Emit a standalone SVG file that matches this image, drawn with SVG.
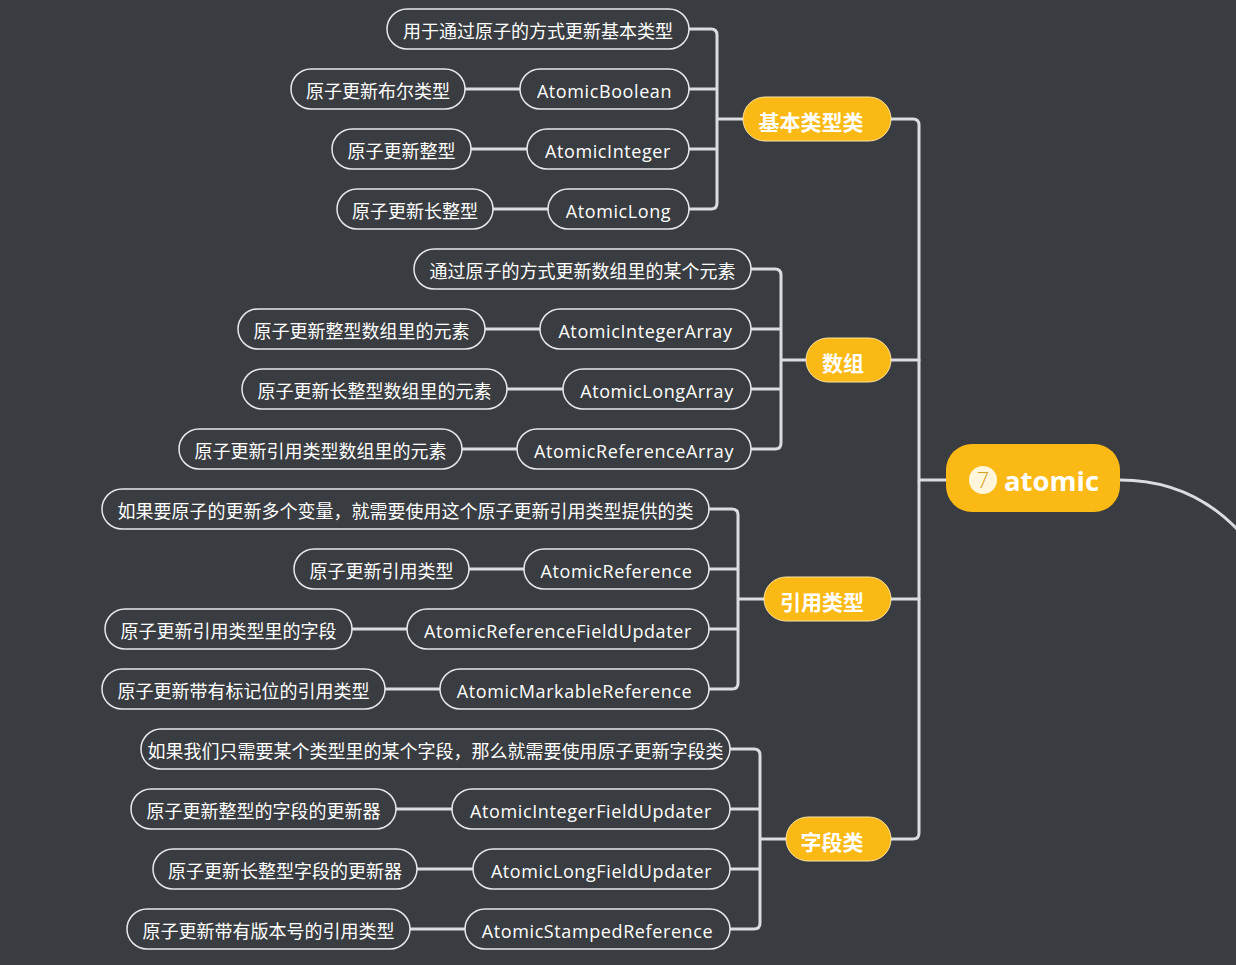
<svg xmlns="http://www.w3.org/2000/svg" width="1236" height="965" viewBox="0 0 1236 965">
<style>
.leaf rect{fill:#393c40;stroke:#e6e8ea;stroke-width:1.5}
.leaf text{fill:#ffffff;font-size:18px;text-anchor:middle;font-family:"Open Sans","Noto Sans CJK SC",sans-serif}
.leaf text.en{letter-spacing:0.6px}
.cat rect{fill:#fbb915;stroke:#fde3a0;stroke-width:1}
.cat text{fill:#ffffff;font-size:21px;font-weight:bold;text-anchor:middle;font-family:"Noto Sans CJK SC",sans-serif}
.conn path{fill:none;stroke:#d9dde2;stroke-width:3;stroke-linecap:round}
</style>
<rect width="1236" height="965" fill="#393c40"/>
<g class="conn">
<path d="M1120,480 C1170,480 1210,500 1240,532"/>
<path d="M891,119 H913 Q919,119 919,125 V833 Q919,839 913,839 H891"/>
<path d="M891,360 H919 M891,599 H919 M946,480 H919"/>
<path d="M689,29 H711 Q717,29 717,35 V203 Q717,209 711,209 H689 M689,89 H717 M689,149 H717 M717,119 H743"/>
<path d="M465,89 H520 M471,149 H527 M493,209 H548"/>
<path d="M751,269 H775 Q781,269 781,275 V443 Q781,449 775,449 H751 M751,329 H781 M751,389 H781 M781,360 H806"/>
<path d="M485,329 H540 M507,389 H563 M462,449 H517"/>
<path d="M709,509 H732 Q738,509 738,515 V683 Q738,689 732,689 H709 M709,569 H738 M709,629 H738 M738,599 H764"/>
<path d="M469,569 H524 M352,629 H407 M385,689 H440"/>
<path d="M730,749 H754 Q760,749 760,755 V923 Q760,929 754,929 H730 M730,809 H760 M730,869 H760 M760,839 H786"/>
<path d="M396,809 H452 M417,869 H473 M410,929 H465"/>
</g>
<g id="root">
<rect x="946" y="444" width="174" height="68" rx="26" fill="#fbb915"/>
<circle cx="983" cy="480" r="14" fill="#fff6dc"/>
<text x="983" y="488" font-size="22" font-weight="300" fill="#d9a01a" text-anchor="middle" font-family="'Open Sans',sans-serif">7</text>
<text x="1051.5" y="491" font-size="27.5" font-weight="bold" fill="#ffffff" text-anchor="middle" font-family="'Open Sans',sans-serif">atomic</text>
</g>
<g id="cat-basic" class="cat"><rect x="743" y="97" width="148" height="44" rx="22"/><text x="811" y="130">基本类型类</text></g>
<g id="cat-array" class="cat"><rect x="806" y="338" width="85" height="44" rx="22"/><text x="843" y="371">数组</text></g>
<g id="cat-ref" class="cat"><rect x="764" y="577" width="127" height="44" rx="22"/><text x="822" y="610">引用类型</text></g>
<g id="cat-field" class="cat"><rect x="786" y="817" width="105" height="44" rx="22"/><text x="832" y="850">字段类</text></g>

<g id="b1" class="leaf"><rect x="387" y="9" width="302" height="40" rx="20"/><text x="538" y="38">用于通过原子的方式更新基本类型</text></g>
<g id="b2" class="leaf"><rect x="520" y="69" width="169" height="40" rx="20"/><text class="en" x="604.5" y="97.5">AtomicBoolean</text></g>
<g id="b2d" class="leaf"><rect x="291" y="69" width="174" height="40" rx="20"/><text x="378" y="98">原子更新布尔类型</text></g>
<g id="b3" class="leaf"><rect x="527" y="129" width="162" height="40" rx="20"/><text class="en" x="608" y="157.5">AtomicInteger</text></g>
<g id="b3d" class="leaf"><rect x="332" y="129" width="139" height="40" rx="20"/><text x="401.5" y="158">原子更新整型</text></g>
<g id="b4" class="leaf"><rect x="548" y="189" width="141" height="40" rx="20"/><text class="en" x="618.5" y="217.5">AtomicLong</text></g>
<g id="b4d" class="leaf"><rect x="337" y="189" width="156" height="40" rx="20"/><text x="415" y="218">原子更新长整型</text></g>

<g id="a1" class="leaf"><rect x="414" y="249" width="337" height="40" rx="20"/><text x="582.5" y="278">通过原子的方式更新数组里的某个元素</text></g>
<g id="a2" class="leaf"><rect x="540" y="309" width="211" height="40" rx="20"/><text class="en" x="645.5" y="337.5">AtomicIntegerArray</text></g>
<g id="a2d" class="leaf"><rect x="238" y="309" width="247" height="40" rx="20"/><text x="361.5" y="338">原子更新整型数组里的元素</text></g>
<g id="a3" class="leaf"><rect x="563" y="369" width="188" height="40" rx="20"/><text class="en" x="657" y="397.5">AtomicLongArray</text></g>
<g id="a3d" class="leaf"><rect x="242" y="369" width="265" height="40" rx="20"/><text x="374.5" y="398">原子更新长整型数组里的元素</text></g>
<g id="a4" class="leaf"><rect x="517" y="429" width="234" height="40" rx="20"/><text class="en" x="634" y="457.5">AtomicReferenceArray</text></g>
<g id="a4d" class="leaf"><rect x="179" y="429" width="283" height="40" rx="20"/><text x="320.5" y="458">原子更新引用类型数组里的元素</text></g>

<g id="r1" class="leaf"><rect x="102" y="489" width="607" height="40" rx="20"/><text x="405.5" y="518">如果要原子的更新多个变量，就需要使用这个原子更新引用类型提供的类</text></g>
<g id="r2" class="leaf"><rect x="524" y="549" width="185" height="40" rx="20"/><text class="en" x="616.5" y="577.5">AtomicReference</text></g>
<g id="r2d" class="leaf"><rect x="294" y="549" width="175" height="40" rx="20"/><text x="381.5" y="578">原子更新引用类型</text></g>
<g id="r3" class="leaf"><rect x="407" y="609" width="302" height="40" rx="20"/><text class="en" x="558" y="637.5">AtomicReferenceFieldUpdater</text></g>
<g id="r3d" class="leaf"><rect x="105" y="609" width="247" height="40" rx="20"/><text x="228.5" y="638">原子更新引用类型里的字段</text></g>
<g id="r4" class="leaf"><rect x="440" y="669" width="269" height="40" rx="20"/><text class="en" x="574.5" y="697.5">AtomicMarkableReference</text></g>
<g id="r4d" class="leaf"><rect x="102" y="669" width="283" height="40" rx="20"/><text x="243.5" y="698">原子更新带有标记位的引用类型</text></g>

<g id="f1" class="leaf"><rect x="141" y="729" width="589" height="40" rx="20"/><text x="435.5" y="758">如果我们只需要某个类型里的某个字段，那么就需要使用原子更新字段类</text></g>
<g id="f2" class="leaf"><rect x="452" y="789" width="278" height="40" rx="20"/><text class="en" x="591" y="817.5">AtomicIntegerFieldUpdater</text></g>
<g id="f2d" class="leaf"><rect x="131" y="789" width="265" height="40" rx="20"/><text x="263.5" y="818">原子更新整型的字段的更新器</text></g>
<g id="f3" class="leaf"><rect x="473" y="849" width="257" height="40" rx="20"/><text class="en" x="601.5" y="877.5">AtomicLongFieldUpdater</text></g>
<g id="f3d" class="leaf"><rect x="153" y="849" width="264" height="40" rx="20"/><text x="285" y="878">原子更新长整型字段的更新器</text></g>
<g id="f4" class="leaf"><rect x="465" y="909" width="265" height="40" rx="20"/><text class="en" x="597.5" y="937.5">AtomicStampedReference</text></g>
<g id="f4d" class="leaf"><rect x="127" y="909" width="283" height="40" rx="20"/><text x="268.5" y="938">原子更新带有版本号的引用类型</text></g>
</svg>
